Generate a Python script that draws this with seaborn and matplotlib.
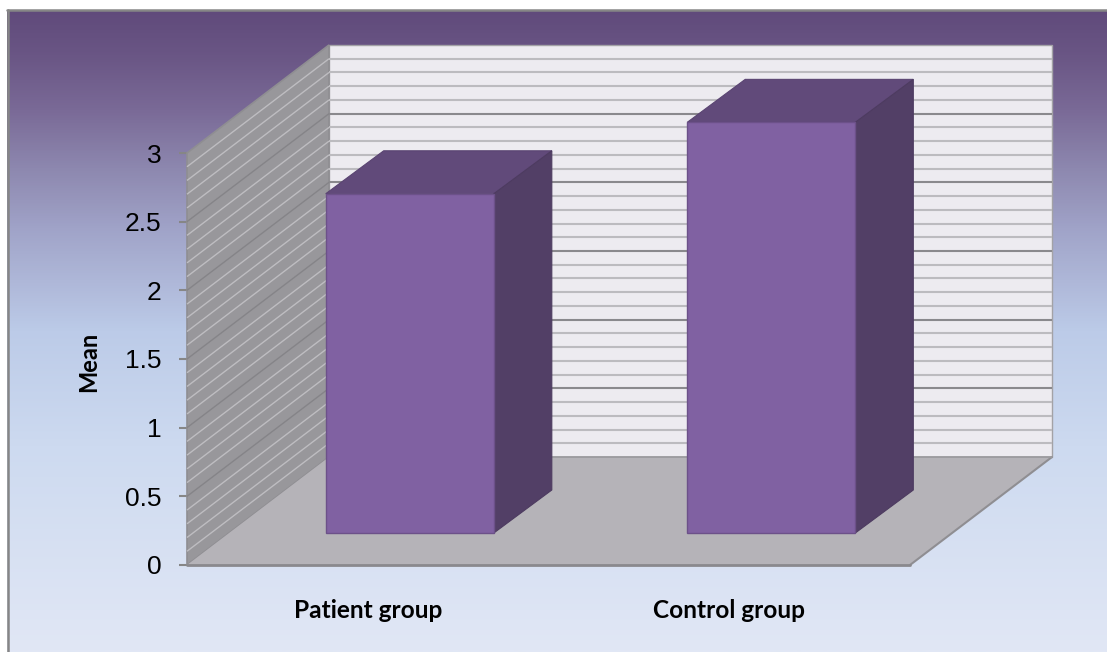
import numpy as np
import pandas as pd
import matplotlib
matplotlib.use("Agg")
import matplotlib.pyplot as plt
from matplotlib.colors import LinearSegmentedColormap
from matplotlib.patches import Polygon
import seaborn as sns

# Chart values
groups = ["Patient group", "Control group"]
means = [2.47, 2.99]
y_ticks = [0, 0.5, 1, 1.5, 2, 2.5, 3]
y_tick_labels = ["0", "0.5", "1", "1.5", "2", "2.5", "3"]

W, H = 1107, 652
DPI = 100
sns.set_theme(style="white")
plt.rcParams["font.family"] = ["Liberation Sans", "DejaVu Sans"]

fig = plt.figure(figsize=(W / DPI, H / DPI), dpi=DPI, facecolor="white")


def px_axes(left, top, right, bottom, **kw):
    """Axes placed by pixel edges measured from the top-left of the figure."""
    return fig.add_axes([left / W, 1 - bottom / H, (right - left) / W, (bottom - top) / H], **kw)


# Chart area: vertical gradient with a grey frame on the top and left edges
bg = px_axes(7, 10, W, H)
bg.set_axis_off()
stops = [(0.0, "#604a7b"), (0.07, "#6a5685"), (0.155, "#7a6a97"), (0.25, "#8e89b0"),
         (0.34, "#a0a3c8"), (0.5, "#bccbe8"), (0.68, "#cddaf0"), (1.0, "#e1e7f5")]
cmap = LinearSegmentedColormap.from_list("panel", stops)
bg.imshow(np.linspace(0, 1, 512)[:, None], aspect="auto", cmap=cmap, vmin=0, vmax=1)
frame = "#868686"
fig.add_artist(plt.Line2D([7.5 / W, 7.5 / W], [0, 1 - 9.5 / H], color=frame, lw=1.8))
fig.add_artist(plt.Line2D([7 / W, 1], [1 - 9.5 / H, 1 - 9.5 / H], color=frame, lw=1.8))

# Front plane of the 3-D box: carries the axis scale and labels
FRONT_L, FRONT_R, FRONT_T, FRONT_B = 187, 910, 153, 565
ax = px_axes(FRONT_L, FRONT_T, FRONT_R, FRONT_B)
ax.patch.set_alpha(0)
ax.set_xlim(-0.5, 1.5)
ax.set_ylim(0, 3)

# Depth of the box, expressed in data units of the front plane
x_per_px = 2 / (FRONT_R - FRONT_L)
y_per_px = 3 / (FRONT_B - FRONT_T)
DEPTH_X = 142 * x_per_px
DEPTH_Y = 108 * y_per_px


def project(x, y, d):
    return (x + d * DEPTH_X, y + d * DEPTH_Y)


x0, x1 = ax.get_xlim()
y0, y1 = ax.get_ylim()

back_wall = [project(x0, y0, 1), project(x1, y0, 1), project(x1, y1, 1), project(x0, y1, 1)]
left_wall = [project(x0, y0, 0), project(x0, y0, 1), project(x0, y1, 1), project(x0, y1, 0)]
floor = [project(x0, y0, 0), project(x1, y0, 0), project(x1, y0, 1), project(x0, y0, 1)]

ax.add_patch(Polygon(back_wall, closed=True, fc="#edebf0", ec="#a3a2a6", lw=1.0, clip_on=False, zorder=1))
ax.add_patch(Polygon(left_wall, closed=True, fc="#98979b", ec="#8f8e92", lw=1.2, clip_on=False, zorder=1))

# Gridlines on both walls: light every 0.1, dark every 0.5
for level in np.arange(1, 30) / 10:
    major = abs(level * 2 - round(level * 2)) < 1e-9
    xb0, yb = project(x0, level, 1)
    xb1, _ = project(x1, level, 1)
    xf, yf = project(x0, level, 0)
    ax.plot([xb0, xb1], [yb, yb], color="#8a898d" if major else "#bcbbbf",
            lw=1.5, clip_on=False, zorder=2, solid_capstyle="butt")
    ax.plot([xf, xb0], [yf, yb], color="#858488" if major else "#bebdc1",
            lw=1.0, clip_on=False, zorder=2, solid_capstyle="butt")

ax.add_patch(Polygon(floor, closed=True, fc="#b5b3b8", ec="none", clip_on=False, zorder=3))
ax.plot([floor[1][0], floor[2][0]], [floor[1][1], floor[2][1]], color="#8f8e92", lw=1.5, clip_on=False, zorder=3)
ax.plot([floor[3][0], floor[2][0]], [floor[3][1], floor[2][1]], color="#9b9a9e", lw=1.3, clip_on=False, zorder=3)
ax.plot([floor[0][0], floor[1][0]], [floor[0][1], floor[1][1]], color="#8a898d", lw=2.0, clip_on=False, zorder=4)

ax.grid(False)
for side in ax.spines:
    ax.spines[side].set_visible(False)
ax.set_yticks(y_ticks)
ax.set_yticklabels(y_tick_labels, fontsize=19, color="black")
ax.tick_params(axis="y", left=True, length=5.8, width=1.5, color="#868686", pad=12.5)
ax.set_xticks([0, 1])
ax.set_xticklabels(groups, family="Lato", fontweight="bold", fontsize=17.6, color="black")
ax.tick_params(axis="x", bottom=False, pad=18.5)
ax.set_xlabel("")
ax.set_ylabel("Mean", family="Lato", fontweight="bold", fontsize=17, color="black", labelpad=0)
ax.yaxis.set_label_coords((100 - FRONT_L) / (FRONT_R - FRONT_L), 1 - (362 - FRONT_T) / (FRONT_B - FRONT_T),
                          transform=ax.transAxes)

# Bars stand on a plane set back from the front edge of the floor
BAR_SHIFT_X, BAR_SHIFT_Y = 42, 32
bar_ax = px_axes(FRONT_L + BAR_SHIFT_X, FRONT_T - BAR_SHIFT_Y, FRONT_R + BAR_SHIFT_X, FRONT_B - BAR_SHIFT_Y)
bar_ax.patch.set_alpha(0)
data = pd.DataFrame({"group": groups, "mean": means})
sns.barplot(data=data, x="group", y="mean", color="#8061a2", saturation=1, width=0.465,
            edgecolor="#6c5189", linewidth=1.0, ax=bar_ax)
bar_ax.set_xlim(-0.5, 1.5)
bar_ax.set_ylim(0, 3)
bar_ax.set_axis_off()

# Top and side faces of each bar
BAR_DEPTH_X = 58 * x_per_px
BAR_DEPTH_Y = 43 * y_per_px
for bar in list(bar_ax.patches):
    bar.set_clip_on(False)
    bar.set_zorder(5)
    xl, xr = bar.get_x(), bar.get_x() + bar.get_width()
    top = bar.get_height()
    top_face = [(xl, top), (xr, top), (xr + BAR_DEPTH_X, top + BAR_DEPTH_Y), (xl + BAR_DEPTH_X, top + BAR_DEPTH_Y)]
    side_face = [(xr, 0), (xr + BAR_DEPTH_X, BAR_DEPTH_Y), (xr + BAR_DEPTH_X, top + BAR_DEPTH_Y), (xr, top)]
    bar_ax.add_patch(Polygon(top_face, closed=True, fc="#614a7a", ec="#5a4472", lw=0.8, clip_on=False, zorder=4))
    bar_ax.add_patch(Polygon(side_face, closed=True, fc="#523f66", ec="#4d3b60", lw=0.8, clip_on=False, zorder=4))

fig.savefig("out.png", dpi=DPI)
